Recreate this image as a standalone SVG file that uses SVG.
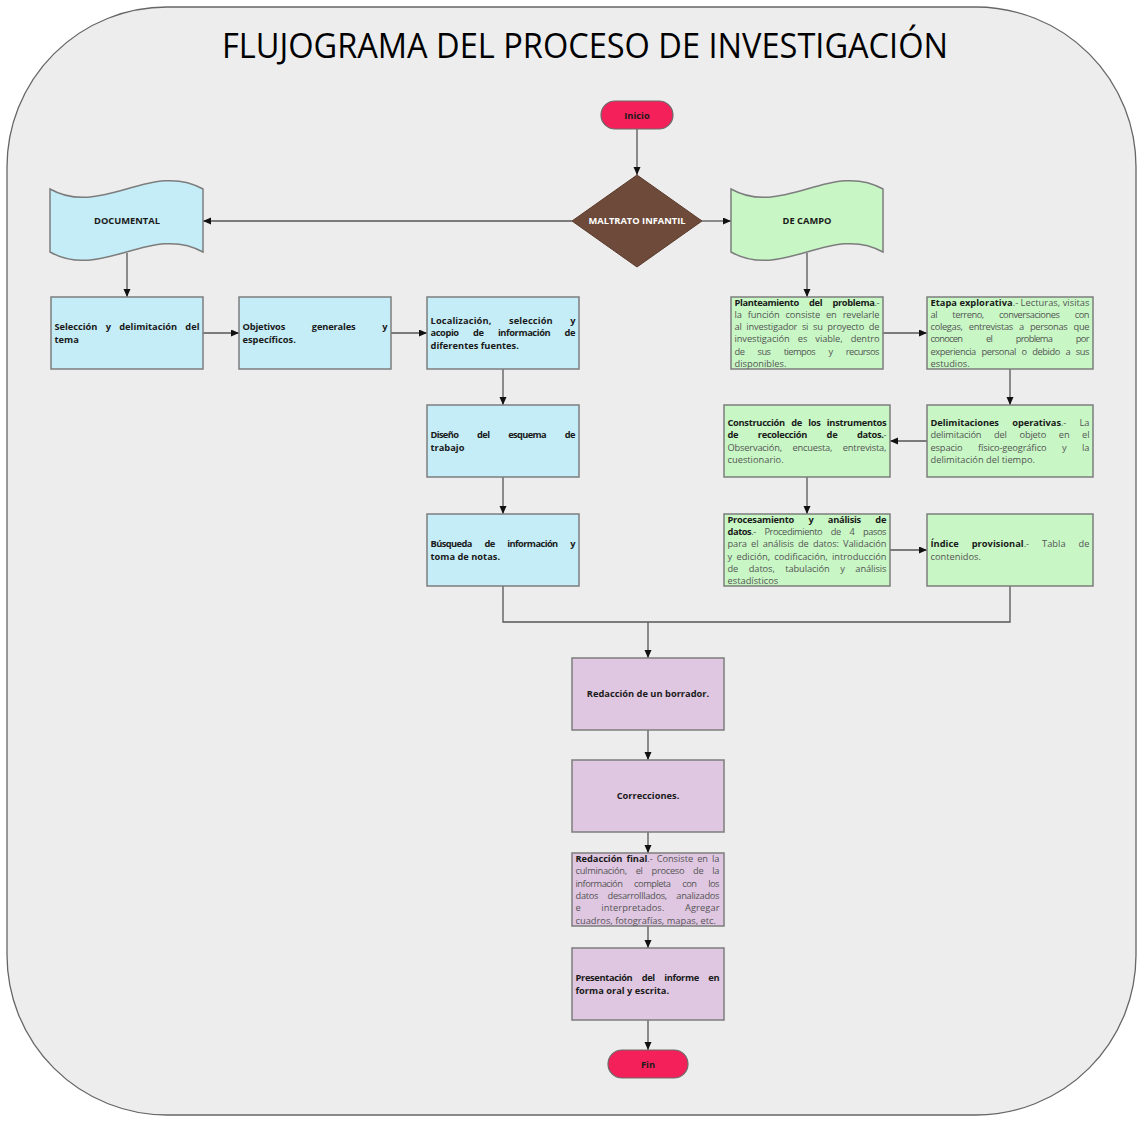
<svg xmlns="http://www.w3.org/2000/svg" width="1144" height="1125" viewBox="0 0 1144 1125">
<style>
.t{font-family:"Open Sans","Noto Sans",sans-serif;font-size:9.3px;fill:#555}
.b{font-weight:700;fill:#1a1a1a}
.w{font-family:"Open Sans","Noto Sans",sans-serif;font-size:9.3px;font-weight:700;fill:#fff}
.bx{stroke:#7d7d7d;stroke-width:1.5}
.blue{fill:#c5edf7}
.green{fill:#c8f7c5}
.purple{fill:#dfc7e1}
.term{fill:#f42059;stroke:#6a6a6a;stroke-width:1.2}
.c{fill:none;stroke:#555;stroke-width:1.3}
</style>
<defs>
<marker id="ah" markerUnits="userSpaceOnUse" markerWidth="9" markerHeight="8" refX="8" refY="3.5" orient="auto">
<path d="M0,0 L8,3.5 L0,7 z" fill="#111"/>
</marker>
</defs>
<rect x="7" y="7" width="1129" height="1108" rx="160" ry="160" fill="#ededed" stroke="#666" stroke-width="1.3"/>
<text x="585" y="58" text-anchor="middle" textLength="726" lengthAdjust="spacingAndGlyphs" style="font-family:'Open Sans','Noto Sans',sans-serif;font-size:35px;fill:#000">FLUJOGRAMA DEL PROCESO DE INVESTIGACIÓN</text>

<g id="connectors">
<path class="c" d="M637,129 V175" marker-end="url(#ah)"/>
<path class="c" d="M572,221 H203" marker-end="url(#ah)"/>
<path class="c" d="M702,221 H731" marker-end="url(#ah)"/>
<path class="c" d="M127,253 V297" marker-end="url(#ah)"/>
<path class="c" d="M203,333 H239" marker-end="url(#ah)"/>
<path class="c" d="M391,333 H427" marker-end="url(#ah)"/>
<path class="c" d="M503,369 V405" marker-end="url(#ah)"/>
<path class="c" d="M503,477 V514" marker-end="url(#ah)"/>
<path class="c" d="M503,586 V622 H1010 V586"/>
<path class="c" d="M648,622 V658" marker-end="url(#ah)"/>
<path class="c" d="M807,253 V297" marker-end="url(#ah)"/>
<path class="c" d="M883,333 H927" marker-end="url(#ah)"/>
<path class="c" d="M1010,369 V405" marker-end="url(#ah)"/>
<path class="c" d="M927,441 H890" marker-end="url(#ah)"/>
<path class="c" d="M807,477 V514" marker-end="url(#ah)"/>
<path class="c" d="M890,550 H927" marker-end="url(#ah)"/>
<path class="c" d="M648,730 V760" marker-end="url(#ah)"/>
<path class="c" d="M648,832 V853" marker-end="url(#ah)"/>
<path class="c" d="M648,926 V948" marker-end="url(#ah)"/>
<path class="c" d="M648,1020 V1050" marker-end="url(#ah)"/>
</g>

<g id="inicio">
<rect class="term" x="601" y="101" width="72" height="28" rx="14"/>
<text class="t b" x="637" y="118.5" text-anchor="middle">Inicio</text>
</g>

<g id="maltrato">
<path d="M637,175 L702,221 L637,267 L572,221 z" fill="#6d4a3a" stroke="#5a3c2e" stroke-width="1"/>
<text class="w" x="637" y="224.3" text-anchor="middle">MALTRATO INFANTIL</text>
</g>

<g id="documental">
<path class="bx blue" d="M50,189 C101,218 152,160 203,189 L203,252 C152,223 101,281 50,252 z"/>
<text class="t b" x="127" y="224.3" text-anchor="middle">DOCUMENTAL</text>
</g>

<g id="decampo">
<path class="bx green" d="M731,189 C782,218 832,160 883,189 L883,252 C832,223 782,281 731,252 z"/>
<text class="t b" x="807" y="224.3" text-anchor="middle">DE CAMPO</text>
</g>

<g id="seleccion">
<rect class="bx blue" x="51" y="297" width="152" height="72"/>
<text class="t b" x="54.5" y="330.2" textLength="145" lengthAdjust="spacing" word-spacing="5.9">Selección y delimitación del</text>
<text class="t b" x="54.5" y="342.5">tema</text>
</g>

<g id="objetivos">
<rect class="bx blue" x="239" y="297" width="152" height="72"/>
<text class="t b" x="242.5" y="330.2" textLength="145" lengthAdjust="spacing" word-spacing="24.5">Objetivos generales y</text>
<text class="t b" x="242.5" y="342.5">específicos.</text>
</g>

<g id="localizacion">
<rect class="bx blue" x="427" y="297" width="152" height="72"/>
<text class="t b" x="430.5" y="324" textLength="145" lengthAdjust="spacing" word-spacing="14.9">Localización, selección y</text>
<text class="t b" x="430.5" y="336.3" textLength="145" lengthAdjust="spacing" word-spacing="12.3">acopio de información de</text>
<text class="t b" x="430.5" y="348.6">diferentes fuentes.</text>
</g>

<g id="diseno">
<rect class="bx blue" x="427" y="405" width="152" height="72"/>
<text class="t b" x="430.5" y="438.2" textLength="145" lengthAdjust="spacing" word-spacing="17.1">Diseño del esquema de</text>
<text class="t b" x="430.5" y="450.5">trabajo</text>
</g>

<g id="busqueda">
<rect class="bx blue" x="427" y="514" width="152" height="72"/>
<text class="t b" x="430.5" y="547.2" textLength="145" lengthAdjust="spacing" word-spacing="10.7">Búsqueda de información y</text>
<text class="t b" x="430.5" y="559.5">toma de notas.</text>
</g>

<g id="planteamiento">
<rect class="bx green" x="731" y="297" width="152" height="72"/>
<text class="t" x="734.5" y="305.5" textLength="145" lengthAdjust="spacing" word-spacing="8.2"><tspan class="b">Planteamiento del problema</tspan>.-</text>
<text class="t" x="734.5" y="317.8" textLength="145" lengthAdjust="spacing" word-spacing="3.7">la función consiste en revelarle</text>
<text class="t" x="734.5" y="330.1" textLength="145" lengthAdjust="spacing" word-spacing="2.5">al investigador si su proyecto de</text>
<text class="t" x="734.5" y="342.4" textLength="145" lengthAdjust="spacing" word-spacing="5.8">investigación es viable, dentro</text>
<text class="t" x="734.5" y="354.7" textLength="145" lengthAdjust="spacing" word-spacing="11.3">de sus tiempos y recursos</text>
<text class="t" x="734.5" y="367">disponibles.</text>
</g>

<g id="etapa">
<rect class="bx green" x="927" y="297" width="166" height="72"/>
<text class="t" x="930.5" y="305.5" textLength="159" lengthAdjust="spacing"><tspan class="b">Etapa explorativa</tspan>.- Lecturas, visitas</text>
<text class="t" x="930.5" y="317.8" textLength="159" lengthAdjust="spacing" word-spacing="13.3">al terreno, conversaciones con</text>
<text class="t" x="930.5" y="330.1" textLength="159" lengthAdjust="spacing" word-spacing="4">colegas, entrevistas a personas que</text>
<text class="t" x="930.5" y="342.4" textLength="159" lengthAdjust="spacing" word-spacing="21.9">conocen el problema por</text>
<text class="t" x="930.5" y="354.7" textLength="159" lengthAdjust="spacing" word-spacing="3.6">experiencia personal o debido a sus</text>
<text class="t" x="930.5" y="367">estudios.</text>
</g>

<g id="delimitaciones">
<rect class="bx green" x="927" y="405" width="166" height="72"/>
<text class="t" x="930.5" y="425.9" textLength="159" lengthAdjust="spacing" word-spacing="10.9"><tspan class="b">Delimitaciones operativas</tspan>.- La</text>
<text class="t" x="930.5" y="438.2" textLength="159" lengthAdjust="spacing" word-spacing="10.5">delimitación del objeto en el</text>
<text class="t" x="930.5" y="450.5" textLength="159" lengthAdjust="spacing" word-spacing="13.3">espacio físico-geográfico y la</text>
<text class="t" x="930.5" y="462.8">delimitación del tiempo.</text>
</g>

<g id="construccion">
<rect class="bx green" x="724" y="405" width="166" height="72"/>
<text class="t b" x="727.5" y="425.9" textLength="159" lengthAdjust="spacing" word-spacing="4.2">Construcción de los instrumentos</text>
<text class="t" x="727.5" y="438.2" textLength="159" lengthAdjust="spacing" word-spacing="17.6"><tspan class="b">de recolección de datos.</tspan>-</text>
<text class="t" x="727.5" y="450.5" textLength="159" lengthAdjust="spacing" word-spacing="8.3">Observación, encuesta, entrevista,</text>
<text class="t" x="727.5" y="462.8">cuestionario.</text>
</g>

<g id="procesamiento">
<rect class="bx green" x="724" y="514" width="166" height="72"/>
<text class="t b" x="727.5" y="522.6" textLength="159" lengthAdjust="spacing" word-spacing="12.2">Procesamiento y análisis de</text>
<text class="t" x="727.5" y="534.9" textLength="159" lengthAdjust="spacing" word-spacing="6.6"><tspan class="b">datos</tspan>.- Procedimiento de 4 pasos</text>
<text class="t" x="727.5" y="547.2" textLength="159" lengthAdjust="spacing" word-spacing="1.9">para el análisis de datos: Validación</text>
<text class="t" x="727.5" y="559.5" textLength="159" lengthAdjust="spacing" word-spacing="1.9">y edición, codificación, introducción</text>
<text class="t" x="727.5" y="571.8" textLength="159" lengthAdjust="spacing" word-spacing="8.3">de datos, tabulación y análisis</text>
<text class="t" x="727.5" y="584.1">estadísticos</text>
</g>

<g id="indice">
<rect class="bx green" x="927" y="514" width="166" height="72"/>
<text class="t" x="930.5" y="547.2" textLength="159" lengthAdjust="spacing" word-spacing="10.5"><tspan class="b">Índice provisional</tspan>.- Tabla de</text>
<text class="t" x="930.5" y="559.5">contenidos.</text>
</g>

<g id="borrador">
<rect class="bx purple" x="572" y="658" width="152" height="72"/>
<text class="t b" x="648" y="697.3" text-anchor="middle">Redacción de un borrador.</text>
</g>

<g id="correcciones">
<rect class="bx purple" x="572" y="760" width="152" height="72"/>
<text class="t b" x="648" y="799.3" text-anchor="middle">Correcciones.</text>
</g>

<g id="redaccionfinal">
<rect class="bx purple" x="572" y="853" width="152" height="73"/>
<text class="t" x="575.5" y="862.1" textLength="144" lengthAdjust="spacing" word-spacing="1.7"><tspan class="b">Redacción final</tspan>.- Consiste en la</text>
<text class="t" x="575.5" y="874.4" textLength="144" lengthAdjust="spacing" word-spacing="6.7">culminación, el proceso de la</text>
<text class="t" x="575.5" y="886.7" textLength="144" lengthAdjust="spacing" word-spacing="9.8">información completa con los</text>
<text class="t" x="575.5" y="899" textLength="144" lengthAdjust="spacing" word-spacing="7.3">datos desarrolllados, analizados</text>
<text class="t" x="575.5" y="911.3" textLength="144" lengthAdjust="spacing" word-spacing="18">e interpretados. Agregar</text>
<text class="t" x="575.5" y="923.6">cuadros, fotografías, mapas, etc.</text>
</g>

<g id="presentacion">
<rect class="bx purple" x="572" y="948" width="152" height="72"/>
<text class="t b" x="575.5" y="981.2" textLength="144" lengthAdjust="spacing" word-spacing="7.2">Presentación del informe en</text>
<text class="t b" x="575.5" y="993.5">forma oral y escrita.</text>
</g>

<g id="fin">
<rect class="term" x="608" y="1050" width="80" height="28" rx="14"/>
<text class="t b" x="648" y="1067.5" text-anchor="middle">Fin</text>
</g>
</svg>
